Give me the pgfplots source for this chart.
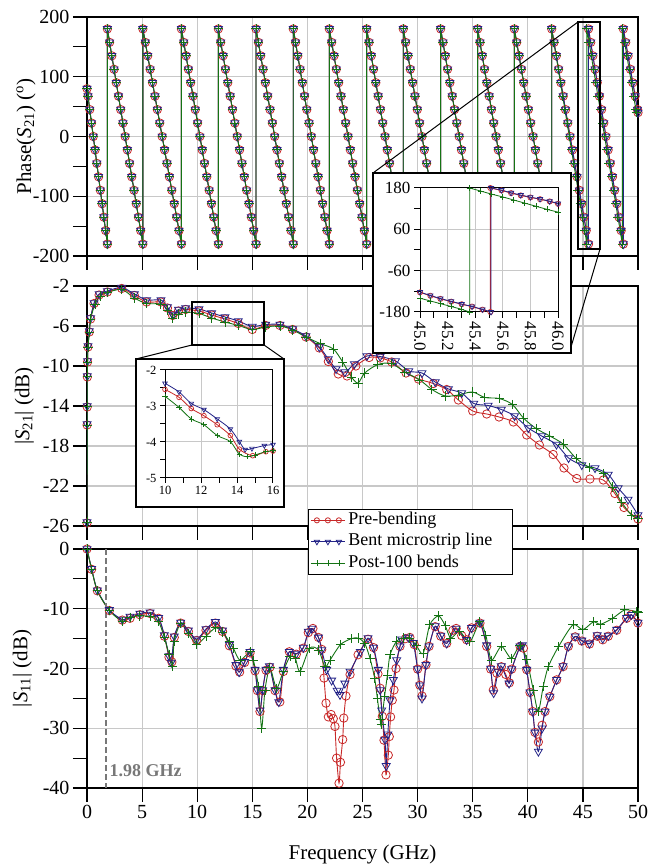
\documentclass[border=0pt]{standalone}
\usepackage{fontspec}
\setmainfont{Liberation Serif}
\usepackage{pgfplots}
\usepackage{pgfplotstable}
\pgfplotsset{compat=1.18}
\definecolor{cR}{RGB}{200,40,40}
\definecolor{cB}{RGB}{35,35,135}
\definecolor{cG}{RGB}{20,115,20}
\definecolor{cGrid}{RGB}{200,200,200}
\definecolor{cDash}{RGB}{120,120,120}

\pgfplotstableread{
fr fb fg p
0 0 0 80
0.089 0.089 0.089 67.5
0.249 0.249 0.249 45
0.409 0.409 0.409 22.5
0.569 0.569 0.569 0
0.73 0.73 0.73 -22.5
0.89 0.89 0.89 -45
1.05 1.05 1.05 -67.5
1.21 1.21 1.21 -90
1.37 1.37 1.37 -112.5
1.53 1.53 1.53 -135
1.69 1.69 1.69 -157.5
1.85 1.85 1.85 -180
1.85 1.85 1.85 180
2.051 2.051 2.051 157.5
2.253 2.253 2.253 135
2.454 2.454 2.454 112.5
2.655 2.655 2.655 90
2.856 2.856 2.856 67.5
3.058 3.058 3.058 45
3.259 3.259 3.259 22.5
3.46 3.46 3.46 0
3.661 3.661 3.661 -22.5
3.863 3.863 3.863 -45
4.064 4.064 4.064 -67.5
4.265 4.265 4.265 -90
4.466 4.466 4.466 -112.5
4.668 4.668 4.668 -135
4.869 4.869 4.869 -157.5
5.07 5.07 5.07 -180
5.07 5.07 5.07 180
5.289 5.289 5.289 157.5
5.508 5.508 5.508 135
5.726 5.726 5.726 112.5
5.945 5.945 5.945 90
6.164 6.164 6.164 67.5
6.383 6.383 6.383 45
6.601 6.601 6.601 22.5
6.82 6.82 6.82 0
7.039 7.039 7.039 -22.5
7.258 7.258 7.258 -45
7.476 7.476 7.476 -67.5
7.695 7.695 7.695 -90
7.914 7.914 7.914 -112.5
8.133 8.133 8.133 -135
8.351 8.351 8.351 -157.5
8.57 8.57 8.57 -180
8.57 8.57 8.57 180
8.779 8.779 8.779 157.5
8.989 8.989 8.989 135
9.198 9.198 9.198 112.5
9.408 9.408 9.408 90
9.617 9.617 9.617 67.5
9.826 9.826 9.826 45
10.036 10.036 10.036 22.5
10.245 10.245 10.245 0
10.454 10.454 10.454 -22.5
10.664 10.664 10.664 -45
10.873 10.873 10.873 -67.5
11.083 11.083 11.083 -90
11.292 11.292 11.292 -112.5
11.501 11.501 11.501 -135
11.711 11.711 11.711 -157.5
11.92 11.92 11.92 -180
11.92 11.92 11.92 180
12.134 12.134 12.134 157.5
12.348 12.348 12.348 135
12.561 12.561 12.561 112.5
12.775 12.775 12.775 90
12.989 12.989 12.989 67.5
13.203 13.203 13.203 45
13.416 13.416 13.416 22.5
13.63 13.63 13.63 0
13.844 13.844 13.844 -22.5
14.058 14.058 14.058 -45
14.271 14.271 14.271 -67.5
14.485 14.485 14.485 -90
14.699 14.699 14.699 -112.5
14.913 14.913 14.913 -135
15.126 15.126 15.126 -157.5
15.34 15.34 15.34 -180
15.34 15.34 15.34 180
15.551 15.551 15.551 157.5
15.763 15.763 15.763 135
15.974 15.974 15.974 112.5
16.185 16.185 16.185 90
16.396 16.396 16.396 67.5
16.608 16.608 16.608 45
16.819 16.819 16.819 22.5
17.03 17.03 17.03 0
17.241 17.241 17.241 -22.5
17.453 17.453 17.453 -45
17.664 17.664 17.664 -67.5
17.875 17.875 17.875 -90
18.086 18.086 18.086 -112.5
18.298 18.298 18.298 -135
18.509 18.509 18.509 -157.5
18.72 18.72 18.72 -180
18.72 18.72 18.72 180
18.924 18.924 18.924 157.5
19.129 19.129 19.129 135
19.333 19.333 19.333 112.5
19.538 19.538 19.538 90
19.742 19.742 19.742 67.5
19.946 19.946 19.946 45
20.151 20.151 20.151 22.5
20.355 20.355 20.355 0
20.559 20.559 20.559 -22.5
20.764 20.764 20.764 -45
20.968 20.968 20.968 -67.5
21.173 21.173 21.173 -90
21.377 21.377 21.377 -112.5
21.581 21.581 21.581 -135
21.786 21.786 21.786 -157.5
21.99 21.99 21.99 -180
21.99 21.99 21.99 180
22.202 22.202 22.202 157.5
22.414 22.414 22.414 135
22.626 22.626 22.626 112.5
22.838 22.838 22.838 90
23.049 23.049 23.049 67.5
23.261 23.261 23.261 45
23.473 23.473 23.473 22.5
23.685 23.685 23.685 0
23.897 23.897 23.897 -22.5
24.109 24.109 24.109 -45
24.321 24.321 24.321 -67.5
24.533 24.533 24.533 -90
24.744 24.744 24.744 -112.5
24.956 24.956 24.956 -135
25.168 25.168 25.168 -157.5
25.38 25.38 25.38 -180
25.38 25.38 25.38 180
25.588 25.588 25.588 157.5
25.795 25.795 25.795 135
26.003 26.003 26.003 112.5
26.21 26.21 26.21 90
26.418 26.418 26.418 67.5
26.625 26.625 26.625 45
26.833 26.833 26.833 22.5
27.04 27.04 27.04 0
27.248 27.248 27.248 -22.5
27.455 27.455 27.455 -45
27.663 27.663 27.663 -67.5
27.87 27.87 27.87 -90
28.078 28.078 28.078 -112.5
28.285 28.285 28.285 -135
28.493 28.493 28.493 -157.5
28.7 28.7 28.7 -180
28.7 28.7 28.7 180
28.912 28.912 28.912 157.5
29.124 29.124 29.124 135
29.336 29.336 29.336 112.5
29.548 29.548 29.548 90
29.759 29.759 29.759 67.5
29.971 29.971 29.971 45
30.183 30.183 30.183 22.5
30.395 30.395 30.395 0
30.607 30.607 30.607 -22.5
30.819 30.819 30.819 -45
31.031 31.031 31.031 -67.5
31.243 31.243 31.243 -90
31.454 31.454 31.454 -112.5
31.666 31.666 31.666 -135
31.878 31.878 31.878 -157.5
32.09 32.09 32.09 -180
32.09 32.09 32.09 180
32.3 32.3 32.3 157.5
32.51 32.51 32.51 135
32.72 32.72 32.72 112.5
32.93 32.93 32.93 90
33.14 33.14 33.14 67.5
33.35 33.35 33.35 45
33.56 33.56 33.56 22.5
33.77 33.77 33.77 0
33.98 33.98 33.98 -22.5
34.19 34.19 34.19 -45
34.4 34.4 34.4 -67.5
34.61 34.61 34.61 -90
34.82 34.82 34.82 -112.5
35.03 35.03 35.03 -135
35.24 35.24 35.24 -157.5
35.45 35.45 35.45 -180
35.45 35.45 35.45 180
35.658 35.658 35.658 157.5
35.866 35.866 35.866 135
36.074 36.074 36.074 112.5
36.283 36.283 36.283 90
36.491 36.491 36.491 67.5
36.699 36.699 36.699 45
36.907 36.907 36.907 22.5
37.115 37.115 37.115 0
37.323 37.323 37.323 -22.5
37.531 37.531 37.531 -45
37.739 37.739 37.739 -67.5
37.948 37.948 37.948 -90
38.156 38.156 38.156 -112.5
38.364 38.364 38.364 -135
38.572 38.572 38.572 -157.5
38.78 38.78 38.78 -180
38.78 38.78 38.78 180
38.992 38.992 38.992 157.5
39.204 39.204 39.204 135
39.416 39.416 39.416 112.5
39.628 39.628 39.628 90
39.839 39.839 39.839 67.5
40.051 40.051 40.051 45
40.263 40.263 40.263 22.5
40.475 40.475 40.475 0
40.687 40.687 40.687 -22.5
40.899 40.899 40.899 -45
41.111 41.111 41.111 -67.5
41.323 41.323 41.323 -90
41.534 41.534 41.534 -112.5
41.746 41.746 41.746 -135
41.958 41.958 41.958 -157.5
42.17 42.17 42.17 -180
42.17 42.17 42.17 180
42.379 42.379 42.369 157.5
42.588 42.588 42.569 135
42.796 42.796 42.768 112.5
43.005 43.005 42.968 90
43.214 43.214 43.167 67.5
43.423 43.423 43.366 45
43.631 43.631 43.566 22.5
43.84 43.84 43.765 0
44.049 44.049 43.964 -22.5
44.258 44.258 44.164 -45
44.466 44.466 44.363 -67.5
44.675 44.675 44.563 -90
44.884 44.884 44.762 -112.5
45.093 45.093 44.961 -135
45.301 45.301 45.161 -157.5
45.51 45.51 45.36 -180
45.51 45.51 45.36 180
45.708 45.708 45.561 157.5
45.905 45.905 45.763 135
46.103 46.103 45.964 112.5
46.3 46.3 46.165 90
46.498 46.498 46.366 67.5
46.695 46.695 46.568 45
46.893 46.893 46.769 22.5
47.09 47.09 46.97 0
47.288 47.288 47.171 -22.5
47.485 47.485 47.373 -45
47.683 47.683 47.574 -67.5
47.88 47.88 47.775 -90
48.078 48.078 47.976 -112.5
48.275 48.275 48.178 -135
48.473 48.473 48.379 -157.5
48.67 48.67 48.58 -180
48.67 48.67 48.58 180
48.884 48.884 48.785 157.5
49.099 49.099 48.989 135
49.313 49.313 49.194 112.5
49.527 49.527 49.398 90
49.741 49.741 49.603 67.5
49.956 49.956 49.807 45
50.0 50.0 49.853 40
}\phasetab

\pgfplotsset{
  mainax/.style={
    scale only axis, width=551pt, anchor=south west,
    xmin=0, xmax=50, xtick={0,5,...,50},
    grid=major, grid style={line width=1.2pt, cGrid},
    axis line style={line width=1.2pt, black},
    tick style={line width=1.2pt, black},
    tick align=outside, major tick length=14pt, minor tick length=14pt,
    tick pos=left,
    tick label style={font=\fontsize{20}{24}\selectfont},
    /pgf/number format/assume math mode=true,
    label style={font=\fontsize{21}{25}\selectfont},
  },
  sR/.style={cR, line width=0.9pt, mark=o, mark size=4.2pt, mark options={solid, line width=0.8pt}},
  sB/.style={cB, line width=0.9pt, mark=triangle, mark size=4.6pt, mark options={solid, rotate=180, line width=0.8pt}},
  sG/.style={cG, line width=0.9pt, mark=+, mark size=4.6pt, mark options={solid, line width=0.9pt}},
  iR/.style={cR, line width=0.8pt, mark=o, mark size=2.6pt, mark options={solid, line width=0.7pt}},
  iB/.style={cB, line width=0.8pt, mark=triangle, mark size=3pt, mark options={solid, rotate=180, line width=0.7pt}},
  iG/.style={cG, line width=0.8pt, mark=+, mark size=3pt, mark options={solid, line width=0.8pt}},
}

\begin{document}
\begin{tikzpicture}
\useasboundingbox (0pt,0pt) rectangle (648pt,866pt);

% ---------------- Phase panel ----------------
\begin{axis}[mainax, at={(87pt,610pt)}, height=239pt,
  ymin=-200, ymax=200, ytick={-200,-100,0,100,200}, minor ytick={-150,-50,50,150},
  xticklabels={},
  ylabel={Phase({\itshape S}\textsubscript{21}) (\textsuperscript{o})},
  ylabel style={at={(axis description cs:-0.1016,0.5)}, anchor=base}]
\addplot[sR] table[x=fr,y=p]{\phasetab};
\addplot[sB] table[x=fb,y=p]{\phasetab};
\addplot[sG] table[x=fg,y=p]{\phasetab};
\end{axis}

% ---------------- |S21| panel ----------------
\begin{axis}[mainax, at={(87pt,340pt)}, height=240pt,
  ymin=-26, ymax=-2, ytick={-26,-22,-18,-14,-10,-6,-2},
  xticklabels={},
  ylabel={|{\itshape S}\textsubscript{21}| (dB)},
  ylabel style={at={(axis description cs:-0.1047,0.5)}, anchor=base}]
\addplot[sR, smooth] coordinates {(0,-25.7) (0.01,-15.9) (0.02,-14.1) (0.03,-11.1) (0.05,-9.6) (0.09,-8.1) (0.21,-6.6) (0.33,-5.3) (0.64,-3.75) (1.1,-2.9) (1.85,-2.6) (3.15,-2.25) (4.3,-2.95) (5.41,-3.6) (6.71,-3.6) (7.3,-4.2) (7.77,-4.95) (8.3,-4.5) (8.95,-4.35) (10.16,-4.5) (11.31,-4.9) (12.52,-5.3) (13.73,-5.75) (15.0,-6.35) (16.21,-5.95) (17.51,-5.95) (18.66,-6.35) (19.87,-7.1) (21.08,-8.2) (21.9,-9.55) (22.8,-10.8) (23.6,-11.0) (24.4,-10.0) (25.6,-9.15) (26.6,-9.2) (27.65,-9.6) (28.95,-10.7) (30.07,-11.3) (31.43,-11.75) (32.64,-12.35) (33.7,-13.4) (35.0,-14.5) (36.27,-14.8) (37.39,-15.1) (38.69,-15.6) (39.9,-16.9) (41.05,-17.9) (42.3,-18.85) (43.28,-20.2) (44.44,-21.25) (45.64,-21.3) (46.85,-21.4) (47.9,-22.75) (48.73,-24.15) (50,-25.3)};
\addplot[sB, smooth] coordinates {(0,-25.6) (0.01,-15.8) (0.02,-14.0) (0.03,-11.0) (0.05,-9.5) (0.09,-8.0) (0.21,-6.5) (0.33,-5.2) (0.64,-3.7) (1.1,-2.8) (1.85,-2.5) (3.15,-2.15) (4.3,-2.8) (5.41,-3.4) (6.71,-3.4) (7.3,-4.1) (7.77,-4.85) (8.3,-4.35) (8.95,-4.2) (10.16,-4.3) (11.31,-4.7) (12.52,-5.1) (13.73,-5.5) (15.0,-6.05) (16.21,-5.85) (17.51,-5.85) (18.66,-6.3) (19.87,-7.0) (21.08,-8.1) (21.9,-9.3) (22.6,-10.3) (23.4,-10.6) (24.26,-9.8) (25.4,-9.0) (26.6,-9.05) (28.0,-9.5) (29.2,-10.5) (30.4,-10.7) (31.6,-11.6) (32.8,-12.3) (34.0,-12.7) (35.1,-13.75) (36.4,-13.95) (37.6,-14.35) (38.8,-15.0) (40.05,-16.2) (41.26,-17.0) (42.6,-17.85) (43.7,-19.2) (44.9,-19.9) (46.1,-20.2) (47.3,-20.85) (48.2,-22.2) (49.1,-23.35) (50,-24.9)};
\addplot[sG, smooth] coordinates {(0,-25.6) (0.01,-15.9) (0.02,-14.0) (0.03,-11.0) (0.05,-9.6) (0.09,-8.1) (0.21,-6.6) (0.33,-5.3) (0.73,-3.8) (1.2,-3.0) (1.85,-2.65) (3.15,-2.35) (4.3,-3.2) (5.41,-3.75) (6.71,-3.8) (7.3,-4.4) (7.77,-5.2) (8.3,-4.8) (8.95,-4.6) (10.16,-4.75) (11.31,-5.2) (12.52,-5.6) (13.73,-5.95) (15.0,-6.35) (16.21,-6.1) (17.51,-6.0) (18.66,-6.4) (19.87,-7.1) (21.14,-7.75) (22.35,-8.3) (23.2,-9.6) (24.0,-11.1) (24.6,-11.7) (25.2,-10.7) (26.4,-9.85) (27.6,-9.75) (28.85,-10.6) (30.2,-11.4) (31.3,-12.35) (32.5,-13.0) (33.7,-12.9) (34.97,-12.6) (36.1,-13.15) (37.4,-13.25) (38.6,-13.85) (39.6,-15.2) (40.75,-16.25) (42.0,-17.0) (43.2,-17.8) (44.4,-19.25) (45.6,-20.15) (46.85,-20.75) (47.7,-22.1) (48.5,-23.6) (49.4,-24.9) (50,-25.25)};
\end{axis}

% ---------------- |S11| panel ----------------
\begin{axis}[mainax, at={(87pt,78pt)}, height=239pt,
  ymin=-40, ymax=0, ytick={-40,-30,-20,-10,0}, minor ytick={-35,-25,-15,-5},
  xlabel={Frequency (GHz)},
  xlabel style={at={(axis description cs:0.5,-0.28)}, anchor=center},
  ylabel={|{\itshape S}\textsubscript{11}| (dB)},
  ylabel style={at={(axis description cs:-0.1083,0.5)}, anchor=base},
  legend style={at={(axis description cs:0.401,1.167)}, anchor=north west,
    draw=black, line width=1pt, fill=white,
    font=\fontsize{18}{20}\selectfont, inner xsep=2pt, inner ysep=0pt,
    row sep=0pt, nodes={inner sep=3pt, text height=11.5pt, text depth=4pt}},
  legend cell align=left,
  legend image code/.code={\draw[#1, mark indices={2,3,4}] plot coordinates {(0pt,0pt) (6pt,0pt) (17pt,0pt) (28pt,0pt) (34pt,0pt)};}]
\addplot[sR, smooth, tension=0.45, forget plot] coordinates {(0,0) (0.42,-3.4) (0.94,-7.0) (2.03,-10.3) (3.2,-11.9) (3.9,-11.6) (4.8,-11.0) (5.72,-10.8) (6.5,-11.6) (7.02,-14.6) (7.44,-18.1) (7.7,-18.9) (7.92,-14.8) (8.5,-12.4) (9.2,-13.8) (9.95,-15.3) (10.8,-13.6) (11.65,-12.4) (12.3,-13.8) (12.92,-16.2) (13.52,-19.6) (13.85,-20.6) (14.3,-19.0) (14.79,-17.4) (15.25,-20.4) (15.46,-23.7) (15.7,-27.2) (15.94,-23.7) (16.25,-20.3) (16.6,-19.8) (17.06,-23.7) (17.5,-25.6) (17.82,-20.5) (18.36,-17.2) (19.0,-17.6) (19.63,-16.6) (20.08,-14.0) (20.5,-13.3) (21.0,-14.8) (21.3,-16.8) (21.51,-21.6) (21.69,-25.8) (21.9,-28.1) (22.15,-27.7) (22.35,-28.4) (22.5,-29.7) (22.65,-35.0) (22.87,-39.2) (23.0,-35.7) (23.2,-31.9) (23.3,-28.3) (23.5,-24.6) (23.87,-21.0) (24.6,-17.7) (25.5,-15.1) (26.0,-16.5) (26.4,-20.9) (26.6,-23.3) (26.8,-28.0) (26.95,-32.0) (27.13,-37.8) (27.34,-34.5) (27.43,-31.4) (27.55,-28.1) (27.7,-25.3) (27.86,-23.6) (28.04,-20.0) (28.4,-16.3) (28.9,-15.0) (29.3,-14.8) (29.7,-16.0) (30.0,-20.1) (30.2,-22.8) (30.4,-24.6) (30.76,-19.4) (31.04,-16.3) (31.6,-13.0) (32.1,-14.6) (32.64,-15.8) (33.2,-13.6) (33.5,-13.3) (34.0,-14.5) (34.45,-15.2) (34.9,-13.2) (35.66,-12.4) (36.27,-16.3) (36.63,-20.1) (36.87,-23.6) (37.2,-20.8) (37.6,-19.7) (38.0,-21.0) (38.33,-22.4) (38.54,-20.1) (39.3,-16.3) (39.6,-16.6) (39.9,-20.2) (40.2,-24.0) (40.45,-27.2) (40.65,-30.7) (40.96,-32.3) (41.3,-29.5) (41.56,-27.2) (42.0,-24.7) (42.62,-21.9) (43.2,-19.7) (43.68,-16.3) (44.3,-14.7) (44.9,-15.4) (45.6,-15.9) (46.3,-14.6) (46.8,-15.2) (47.3,-14.6) (48.07,-13.6) (48.97,-11.6) (49.4,-11.0) (50.0,-12.4)};
\addplot[sB, smooth, tension=0.45, forget plot] coordinates {(0,0) (0.42,-3.3) (0.94,-6.9) (2.03,-10.2) (3.2,-11.8) (3.9,-11.3) (4.8,-10.8) (5.72,-10.6) (6.5,-11.5) (7.02,-14.4) (7.44,-17.9) (7.65,-19.0) (7.92,-14.6) (8.5,-12.3) (9.2,-13.6) (9.95,-15.1) (10.8,-13.4) (11.65,-12.2) (12.3,-13.6) (12.92,-16.0) (13.52,-19.4) (13.8,-20.6) (14.3,-18.9) (14.79,-17.2) (15.25,-20.2) (15.46,-23.6) (15.7,-27.0) (15.94,-23.6) (16.25,-20.2) (16.55,-19.6) (17.06,-23.6) (17.4,-25.6) (17.82,-20.2) (18.36,-17.2) (19.0,-17.5) (19.63,-16.5) (20.08,-13.8) (20.4,-13.3) (21.0,-14.8) (21.3,-16.9) (21.75,-20.2) (22.2,-22.0) (22.7,-23.7) (22.96,-24.4) (23.4,-22.5) (23.87,-20.5) (24.8,-17.2) (25.5,-14.9) (26.0,-16.5) (26.43,-20.2) (26.6,-23.6) (26.74,-27.0) (27.04,-31.9) (27.15,-36.3) (27.3,-31.0) (27.5,-25.3) (27.8,-21.9) (28.1,-18.6) (28.4,-16.3) (28.55,-15.1) (29.17,-14.8) (29.6,-15.7) (30.0,-20.1) (30.2,-22.8) (30.4,-25.0) (30.76,-19.4) (31.04,-16.3) (31.6,-12.9) (32.1,-14.5) (32.64,-15.8) (33.5,-13.3) (34.45,-15.2) (34.9,-13.2) (35.66,-12.3) (36.27,-16.1) (36.63,-20.0) (36.9,-24.1) (37.3,-20.5) (37.6,-19.6) (38.3,-22.5) (38.54,-20.1) (39.3,-16.3) (39.5,-16.1) (39.9,-20.2) (40.2,-24.0) (40.45,-27.2) (40.65,-30.7) (40.96,-33.9) (41.3,-30.0) (41.56,-27.2) (42.0,-24.7) (42.62,-21.9) (43.2,-19.6) (43.68,-16.3) (44.3,-14.6) (44.9,-15.3) (45.6,-15.8) (46.3,-14.4) (46.8,-15.0) (47.3,-14.5) (48.07,-13.5) (48.97,-11.5) (49.4,-11.0) (50,-12.3)};
\addplot[sG, smooth, tension=0.45, forget plot] coordinates {(0,0) (0.42,-3.4) (0.94,-7.0) (2.03,-10.3) (3.2,-12.1) (3.9,-11.4) (4.8,-11.2) (5.72,-11.3) (6.5,-12.2) (7.02,-14.8) (7.44,-17.6) (7.75,-19.7) (7.92,-15.4) (8.5,-12.5) (9.2,-14.2) (9.95,-15.9) (10.8,-14.6) (11.65,-13.2) (12.3,-13.9) (12.9,-15.5) (13.28,-16.6) (13.88,-18.6) (14.79,-17.2) (15.1,-18.6) (15.55,-23.0) (15.85,-30.0) (16.15,-23.6) (16.6,-19.9) (17.2,-23.3) (17.8,-20.5) (18.42,-18.0) (18.9,-18.3) (19.33,-20.5) (20.2,-16.6) (21.0,-16.9) (21.6,-19.7) (22.05,-18.6) (23.0,-16.0) (24.0,-15.0) (24.6,-14.9) (25.2,-15.8) (25.68,-18.3) (26.1,-21.6) (26.35,-25.0) (26.6,-28.6) (26.7,-29.4) (27.0,-24.7) (27.26,-21.1) (27.5,-17.7) (28.1,-15.4) (28.7,-14.9) (29.3,-14.9) (29.9,-16.2) (30.5,-17.5) (31.1,-12.7) (31.9,-11.2) (32.5,-12.8) (33.0,-14.9) (33.8,-13.8) (34.75,-15.5) (35.65,-12.2) (36.2,-14.5) (36.7,-18.6) (37.6,-16.3) (38.5,-18.3) (39.3,-16.1) (39.9,-18.5) (40.5,-23.6) (40.95,-27.2) (41.4,-23.0) (41.86,-19.7) (42.8,-16.3) (44.1,-12.7) (45.0,-13.5) (45.95,-12.2) (46.6,-12.6) (47.7,-11.6) (48.8,-10.2) (49.9,-10.5) (50,-10.6)};
\addplot[cDash, line width=2pt, dash pattern=on 6pt off 3pt, forget plot] coordinates {(1.75,0) (1.75,-40)};
\node[anchor=west, text=cDash, inner sep=2pt, font=\bfseries\fontsize{18}{20}\selectfont] at (axis cs:1.85,-37.1) {1.98 GHz};
\addlegendimage{cR, line width=0.9pt, mark=o, mark size=2.6pt, mark options={solid, line width=0.8pt}}
\addlegendentry{Pre-bending}
\addlegendimage{cB, line width=0.9pt, mark=triangle, mark size=3pt, mark options={solid, rotate=180, line width=0.8pt}}
\addlegendentry{Bent microstrip line\rule{15pt}{0pt}}
\addlegendimage{cG, line width=0.9pt, mark=+, mark size=3pt, mark options={solid, line width=0.8pt}}
\addlegendentry{Post-100 bends}
\end{axis}

% ---------------- Phase inset ----------------
\draw[black, line width=1.2pt] (578pt,617pt) rectangle (600pt,844pt);
\draw[black, line width=1pt] (578pt,844pt) -- (373pt,693pt);
\draw[black, line width=1pt] (600pt,617pt) -- (571pt,519pt);
\draw[black, line width=1.4pt, fill=white] (373pt,513pt) rectangle (571pt,693pt);
\begin{axis}[scale only axis, anchor=south west, at={(420pt,554pt)}, width=138pt, height=124pt,
  xmin=45, xmax=46, ymin=-180, ymax=180,
  xtick={45,45.2,45.4,45.6,45.8,46}, minor xtick={45.1,45.3,45.5,45.7,45.9},
  ytick={-180,-60,60,180}, minor ytick={-120,0,120},
  grid=major, grid style={line width=1pt, cGrid},
  tick align=outside, major tick length=6pt, minor tick length=6pt, tick pos=left,
  axis line style={line width=1pt, black}, tick style={line width=1pt, black},
  tick label style={font=\fontsize{17}{20}\selectfont},
  /pgf/number format/assume math mode=true,
  xticklabel style={rotate=-90, anchor=west, /pgf/number format/fixed, /pgf/number format/fixed zerofill, /pgf/number format/precision=1},
  axis background/.style={fill=white}]
\addplot[iR] coordinates {(45.0,-123) (45.075,-133) (45.148,-142) (45.226,-150) (45.302,-157.5) (45.377,-164.3) (45.453,-173.2) (45.51,-180) (45.51,180) (45.59,173) (45.66,165) (45.73,158.5) (45.8,152.5) (45.87,147.5) (45.94,141) (46.0,134)};
\addplot[iB] coordinates {(45.0,-122) (45.075,-132) (45.148,-141) (45.226,-149) (45.302,-157) (45.377,-164) (45.453,-172.5) (45.515,-180) (45.515,180) (45.59,174) (45.66,166) (45.73,159.5) (45.8,153.5) (45.87,148) (45.94,141.5) (46.0,135)};
\addplot[iG] coordinates {(45.0,-140) (45.075,-148) (45.15,-156) (45.225,-164) (45.3,-172) (45.36,-180) (45.36,180) (45.44,171) (45.52,162) (45.6,154) (45.68,145) (45.76,136) (45.84,127) (45.92,118) (46.0,110)};
\end{axis}

% ---------------- S21 inset ----------------
\draw[black, line width=1.2pt] (192pt,521pt) rectangle (264pt,564pt);
\draw[black, line width=1pt] (192pt,521pt) -- (136pt,507pt);
\draw[black, line width=1pt] (264pt,521pt) -- (284pt,507pt);
\draw[black, line width=1.4pt, fill=white] (136pt,359pt) rectangle (284pt,507pt);
\begin{axis}[scale only axis, anchor=south west, at={(165pt,388pt)}, width=108pt, height=108pt,
  xmin=10, xmax=16, ymin=-5, ymax=-2,
  xtick={10,12,14,16}, minor xtick={11,13,15},
  ytick={-5,-4,-3,-2}, minor ytick={-4.5,-3.5,-2.5},
  grid=major, grid style={line width=1pt, cGrid},
  tick align=outside, major tick length=5pt, minor tick length=5pt, tick pos=left,
  axis line style={line width=1pt, black}, tick style={line width=1pt, black},
  tick label style={font=\fontsize{12.5}{15}\selectfont},
  /pgf/number format/assume math mode=true,
  axis background/.style={fill=white}]
\addplot[iR, smooth, mark size=2.4pt] coordinates {(10,-2.54) (10.78,-2.76) (11.46,-3.07) (12.16,-3.27) (12.9,-3.52) (13.63,-3.82) (14.13,-4.2) (14.87,-4.38) (15.6,-4.27) (16,-4.25)};
\addplot[iB, smooth, mark size=2.7pt] coordinates {(10,-2.37) (10.78,-2.61) (11.46,-2.93) (12.16,-3.10) (12.9,-3.36) (13.63,-3.64) (14.13,-3.99) (14.45,-4.21) (14.83,-4.18) (15.52,-4.10) (16,-4.07)};
\addplot[iG, smooth, mark size=2.7pt] coordinates {(10,-2.73) (10.78,-3.04) (11.46,-3.36) (12.16,-3.52) (12.9,-3.82) (13.63,-3.99) (14.13,-4.34) (14.6,-4.41) (15.0,-4.36) (15.6,-4.27) (16,-4.24)};
\end{axis}
\end{tikzpicture}
\end{document}
